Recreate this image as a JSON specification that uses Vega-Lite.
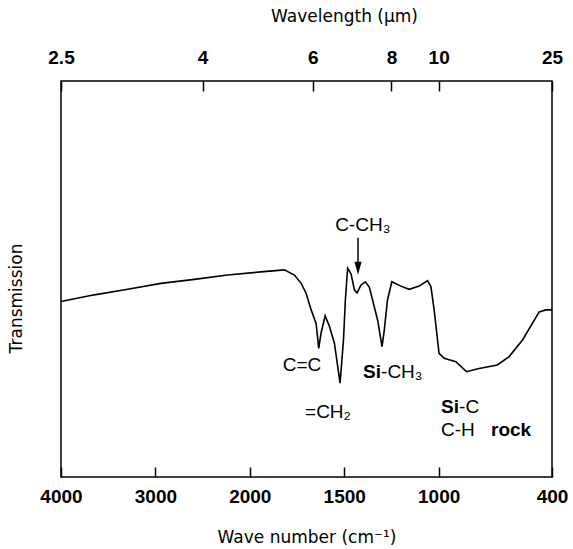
{
  "$schema": "https://vega.github.io/schema/vega-lite/v6.json",
  "autosize": {"type": "none"},
  "padding": {"left": 61, "top": 81, "right": 21, "bottom": 72},
  "width": 491,
  "height": 396,
  "background": "white",
  "config": {
    "view": {"stroke": "black", "strokeWidth": 1.5},
    "axis": {"grid": false, "domain": false}
  },
  "datasets": {
    "spectrum": [
      {"wn": 4000, "T": 44.3}, {"wn": 3647, "T": 46.0}, {"wn": 3293, "T": 47.4},
      {"wn": 2941, "T": 48.9}, {"wn": 2588, "T": 49.9}, {"wn": 2234, "T": 51.0},
      {"wn": 1941, "T": 51.8}, {"wn": 1817, "T": 52.3}, {"wn": 1764, "T": 51.0},
      {"wn": 1728, "T": 48.9}, {"wn": 1702, "T": 46.4}, {"wn": 1675, "T": 42.2},
      {"wn": 1649, "T": 38.8}, {"wn": 1635, "T": 32.5}, {"wn": 1623, "T": 36.3},
      {"wn": 1601, "T": 40.7}, {"wn": 1578, "T": 38.0}, {"wn": 1552, "T": 33.8},
      {"wn": 1522, "T": 23.7}, {"wn": 1504, "T": 34.6}, {"wn": 1494, "T": 44.7},
      {"wn": 1482, "T": 52.7}, {"wn": 1464, "T": 51.3}, {"wn": 1446, "T": 47.2},
      {"wn": 1432, "T": 46.5}, {"wn": 1411, "T": 48.5}, {"wn": 1388, "T": 49.3},
      {"wn": 1367, "T": 47.9}, {"wn": 1350, "T": 44.7}, {"wn": 1323, "T": 39.6},
      {"wn": 1300, "T": 32.9}, {"wn": 1288, "T": 37.1}, {"wn": 1271, "T": 44.7},
      {"wn": 1248, "T": 49.3}, {"wn": 1200, "T": 48.2}, {"wn": 1156, "T": 47.4},
      {"wn": 1103, "T": 48.2}, {"wn": 1059, "T": 49.6}, {"wn": 1041, "T": 48.1},
      {"wn": 1024, "T": 42.2}, {"wn": 998, "T": 31.2}, {"wn": 971, "T": 30.0},
      {"wn": 909, "T": 29.1}, {"wn": 853, "T": 26.6}, {"wn": 786, "T": 27.4},
      {"wn": 689, "T": 28.3}, {"wn": 627, "T": 30.4}, {"wn": 556, "T": 34.6},
      {"wn": 468, "T": 41.7}, {"wn": 433, "T": 42.2}, {"wn": 400, "T": 42.2}
    ],
    "labels_center": [
      {"wn": 1402, "T": 63.6, "label": "C-CH₃"},
      {"wn": 1724, "T": 28.3, "label": "C=C"},
      {"wn": 1586, "T": 16.4, "label": "=CH₂"}
    ],
    "labels_bold_right": [
      {"wn": 1305, "T": 26.5, "label": "Si"},
      {"wn": 892, "T": 17.7, "label": "Si"}
    ],
    "labels_normal_left": [
      {"wn": 1305, "T": 26.5, "label": "-CH₃"},
      {"wn": 892, "T": 17.7, "label": "-C"},
      {"wn": 988, "T": 11.9, "label": "C-H"}
    ],
    "labels_bold_left": [
      {"wn": 723, "T": 11.9, "label": "rock"}
    ],
    "arrow": [
      {"wn": 1427, "T": 60.4, "T2": 54.0, "head": 52.7}
    ]
  },
  "resolve": {"axis": {"x": "independent"}},
  "layer": [
    {
      "data": {"name": "spectrum"},
      "mark": {"type": "line", "color": "black", "strokeWidth": 1.6},
      "encoding": {
        "x": {
          "field": "wn", "type": "quantitative",
          "scale": {"domain": [4000, 2000, 400], "range": [0, 188.8, 491], "nice": false, "zero": false},
          "axis": {
            "orient": "bottom",
            "values": [4000, 3000, 2000, 1500, 1000, 400],
            "format": "d",
            "tickSize": -10, "tickColor": "black", "tickWidth": 1.5,
            "labelPadding": 20,
            "labelFont": "Liberation Sans", "labelFontSize": 19, "labelFontWeight": "bold", "labelColor": "black",
            "labelFlush": false, "labelOverlap": false,
            "title": "Wave number  (cm⁻¹)",
            "titleFont": "DejaVu Sans", "titleFontSize": 17, "titleFontWeight": "normal", "titleColor": "black",
            "titleY": 60, "titleBaseline": "middle"
          }
        },
        "y": {
          "field": "T", "type": "quantitative",
          "scale": {"domain": [0, 100], "nice": false, "zero": false},
          "axis": {
            "title": "Transmission", "labels": false, "ticks": false,
            "titleFont": "DejaVu Sans", "titleFontSize": 17, "titleFontWeight": "normal", "titleColor": "black",
            "titleX": -45, "titleY": 217, "titleAngle": -90, "titleBaseline": "middle", "titleAlign": "center"
          }
        }
      }
    },
    {
      "data": {"name": "labels_center"},
      "mark": {"type": "text", "font": "Liberation Sans", "fontSize": 19, "color": "black", "align": "center", "baseline": "middle"},
      "encoding": {
        "x": {
          "field": "wn", "type": "quantitative",
          "axis": {
            "orient": "top",
            "values": [4000, 2500, 1666.667, 1250, 1000, 400],
            "labelExpr": "datum.value == 4000 ? '2.5' : '' + round(10000 / datum.value)",
            "tickSize": -10, "tickColor": "black", "tickWidth": 1.5,
            "labelPadding": 24,
            "labelFont": "Liberation Sans", "labelFontSize": 19, "labelFontWeight": "bold", "labelColor": "black",
            "labelFlush": false, "labelOverlap": false,
            "title": "Wavelength (μm)",
            "titleFont": "DejaVu Sans", "titleFontSize": 17, "titleFontWeight": "normal", "titleColor": "black",
            "titleX": 283, "titleY": -64.5, "titleBaseline": "middle"
          }
        },
        "y": {"field": "T", "type": "quantitative"},
        "text": {"field": "label"}
      }
    },
    {
      "data": {"name": "labels_bold_right"},
      "mark": {"type": "text", "font": "Liberation Sans", "fontSize": 19, "fontWeight": "bold", "color": "black", "align": "right", "baseline": "middle"},
      "encoding": {
        "x": {"field": "wn", "type": "quantitative", "axis": null},
        "y": {"field": "T", "type": "quantitative"},
        "text": {"field": "label"}
      }
    },
    {
      "data": {"name": "labels_normal_left"},
      "mark": {"type": "text", "font": "Liberation Sans", "fontSize": 19, "color": "black", "align": "left", "baseline": "middle"},
      "encoding": {
        "x": {"field": "wn", "type": "quantitative", "axis": null},
        "y": {"field": "T", "type": "quantitative"},
        "text": {"field": "label"}
      }
    },
    {
      "data": {"name": "labels_bold_left"},
      "mark": {"type": "text", "font": "Liberation Sans", "fontSize": 19, "fontWeight": "bold", "color": "black", "align": "left", "baseline": "middle"},
      "encoding": {
        "x": {"field": "wn", "type": "quantitative", "axis": null},
        "y": {"field": "T", "type": "quantitative"},
        "text": {"field": "label"}
      }
    },
    {
      "data": {"name": "arrow"},
      "mark": {"type": "rule", "color": "black", "strokeWidth": 1.5},
      "encoding": {
        "x": {"field": "wn", "type": "quantitative", "axis": null},
        "y": {"field": "T", "type": "quantitative"},
        "y2": {"field": "T2"}
      }
    },
    {
      "data": {"name": "arrow"},
      "mark": {"type": "point", "filled": true, "color": "black", "opacity": 1, "shape": "M-0.55,-1L0.55,-1L0,1Z", "size": 169},
      "encoding": {
        "x": {"field": "wn", "type": "quantitative", "axis": null},
        "y": {"field": "head", "type": "quantitative"}
      }
    }
  ]
}
